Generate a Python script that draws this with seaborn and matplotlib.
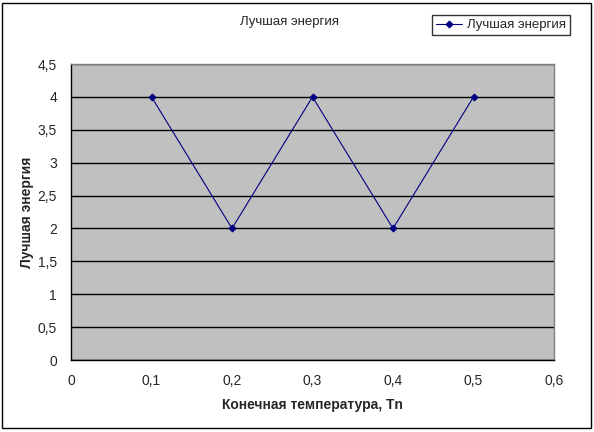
import matplotlib
matplotlib.use("Agg")
import matplotlib.pyplot as plt
import matplotlib.patches as mpatches
import pandas as pd
import seaborn as sns

# данные графика
temps = [0.1, 0.2, 0.3, 0.4, 0.5]
energy = [4, 2, 4, 2, 4]
y_ticks = [0, 0.5, 1, 1.5, 2, 2.5, 3, 3.5, 4, 4.5]
x_ticks = [0, 0.1, 0.2, 0.3, 0.4, 0.5, 0.6]

df = pd.DataFrame({"T": temps, "E": energy})

sns.set_style("white")
plt.rcParams['font.family'] = ['Liberation Sans', 'DejaVu Sans']

fig = plt.figure(figsize=(5.94, 4.32), dpi=100)
ax = fig.add_axes([71 / 594, 1 - 360 / 432, (554 - 71) / 594, (360 - 64) / 432])
ax.set_facecolor('#C0C0C0')

sns.lineplot(data=df, x="T", y="E", ax=ax, color='#000080', linewidth=0.8,
             marker='D', markersize=3.5, markeredgecolor='#000080',
             label='Лучшая энергия', legend=False)

ax.set_xlim(0, 0.6)
ax.set_ylim(0, 4.5)
ax.set_xticks(x_ticks)
ax.set_yticks(y_ticks)
fmt = lambda v: ('%g' % v).replace('.', ',')
ax.set_xticklabels([fmt(v) for v in x_ticks], fontsize=10)
ax.set_yticklabels([fmt(v) for v in y_ticks], fontsize=10)
ax.tick_params(direction='out', length=4, width=1, color='black', pad=6)
ax.yaxis.grid(True, color='black', linewidth=1)
ax.xaxis.grid(False)
ax.set_axisbelow(True)

for s in ['left', 'bottom']:
    ax.spines[s].set_color('black')
    ax.spines[s].set_linewidth(1)
for s in ['top', 'right']:
    ax.spines[s].set_color('#808080')
    ax.spines[s].set_linewidth(1)

ax.set_xlabel('Конечная температура, Tn', fontsize=10, fontweight='bold')
ax.set_ylabel('Лучшая энергия', fontsize=10, fontweight='bold')
ax.xaxis.set_label_coords((312 - 71) / 483, (360 - 405) / 296)
ax.yaxis.set_label_coords((27 - 71) / 483, 0.5)
ax.xaxis.label.set_va('center')
ax.yaxis.label.set_va('center')

fig.text(290 / 594, 1 - 22 / 432, 'Лучшая энергия', ha='center', va='center', fontsize=9.5)

h, l = ax.get_legend_handles_labels()
leg = fig.legend(h, l, loc='center', bbox_to_anchor=(501 / 594, 1 - 25 / 432),
                 fontsize=9.5, frameon=True, fancybox=False, borderpad=0.3,
                 handlelength=2.0, handletextpad=0.4, borderaxespad=0)
leg.get_frame().set_edgecolor('black')
leg.get_frame().set_linewidth(1)

fig.patches.append(mpatches.Rectangle((2 / 594, 4 / 432), 589 / 594, 425 / 432,
                                      transform=fig.transFigure, fill=False,
                                      edgecolor='black', linewidth=1))

fig.savefig('out.png', dpi=100)
